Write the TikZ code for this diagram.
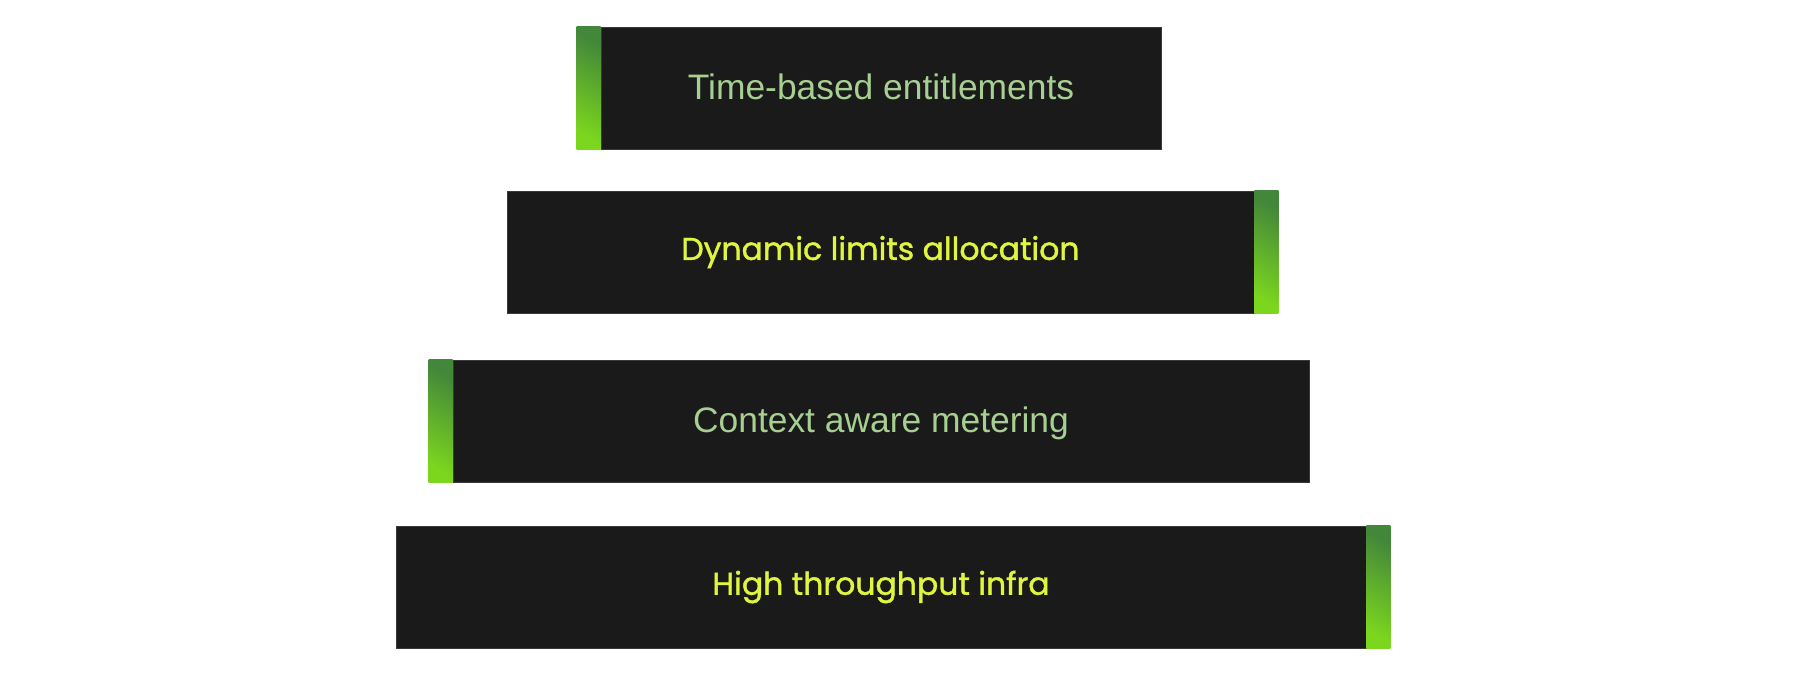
\documentclass[tikz,border=0pt]{standalone}
\usepackage{fontspec}
\setmainfont{Liberation Sans}
\newfontfamily\popfont[FakeBold=1.3]{Poppins}
\definecolor{boxfill}{HTML}{1A1A1A}
\definecolor{boxedge}{HTML}{3A3A3A}
\definecolor{sagetext}{HTML}{A6CF91}
\definecolor{limetext}{HTML}{E0F53E}
\definecolor{accdark}{HTML}{43873A}
\definecolor{acclight}{HTML}{7CD61E}
\tikzset{
  darkbox/.style={fill=boxfill, draw=boxedge, line width=0.8pt, minimum height=122pt, inner sep=0pt, anchor=center},
  sagelabel/.style={text=sagetext, font=\fontsize{35.4}{42}\selectfont, text depth=2pt},
  limelabel/.style={text=limetext, font=\popfont\fontsize{31.5}{38}\selectfont},
  accent/.style={top color=accdark, bottom color=acclight, shading angle=-30}
}
\begin{document}
\begin{tikzpicture}[x=1pt, y=-1pt]
\useasboundingbox (0,0) rectangle (1804,674);
\fill[white] (0,0) rectangle (1804,674);
% box 1
\node[darkbox, minimum width=560pt, sagelabel] (b1) at (881,88) {Time-based entitlements};
\shade[accent] (b1.north west) rectangle ([xshift=-24pt]b1.south west);
% box 2
\node[darkbox, minimum width=747pt, limelabel] (b2) at (880.5,252) {Dynamic limits allocation};
\shade[accent] (b2.north east) rectangle ([xshift=24pt]b2.south east);
% box 3
\node[darkbox, minimum width=856pt, sagelabel] (b3) at (881,421) {Context aware metering};
\shade[accent] (b3.north west) rectangle ([xshift=-24pt]b3.south west);
% box 4
\node[darkbox, minimum width=970pt, limelabel] (b4) at (881,587) {High throughput infra};
\shade[accent] (b4.north east) rectangle ([xshift=24pt]b4.south east);
\end{tikzpicture}
\end{document}
